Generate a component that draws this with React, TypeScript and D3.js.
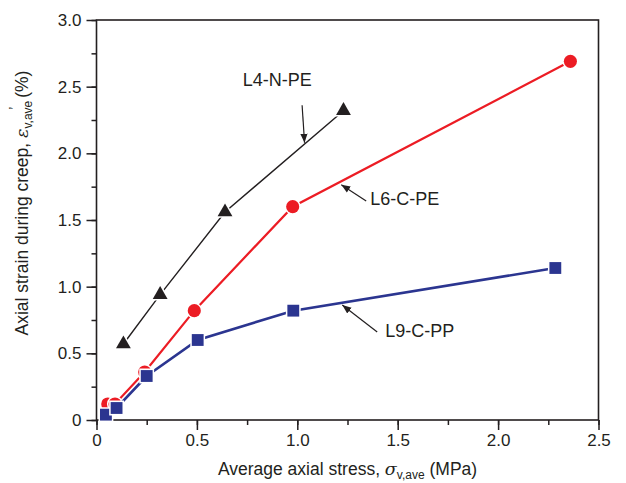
import React, { useRef, useEffect } from 'react';
import * as d3 from 'd3';

// L4-N-PE (black triangles)
const l4Stress = [0.134, 0.317, 0.64, 1.23];
const l4Strain = [0.57, 0.94, 1.56, 2.32];
// L6-C-PE (red circles)
const l6Stress = [0.056, 0.092, 0.24, 0.487, 0.977, 2.36];
const l6Strain = [0.12, 0.12, 0.36, 0.82, 1.6, 2.69];
// L9-C-PP (blue squares)
const l9Stress = [0.047, 0.1, 0.25, 0.504, 0.98, 2.285];
const l9Strain = [0.04, 0.09, 0.33, 0.6, 0.82, 1.14];

const xTicks = [0, 0.5, 1.0, 1.5, 2.0, 2.5];
const yTicks = [0, 0.5, 1.0, 1.5, 2.0, 2.5, 3.0];

// labels with arrows, in data units: text anchor, arrow tail, arrow head
const notes = [
  { label: 'L4-N-PE', tx: 0.9, ty: 2.505, anchor: 'middle', x1: 1.024, y1: 2.36, x2: 1.036, y2: 2.08 },
  { label: 'L6-C-PE', tx: 1.363, ty: 1.61, anchor: 'start', x1: 1.343, y1: 1.643, x2: 1.219, y2: 1.765 },
  { label: 'L9-C-PP', tx: 1.438, ty: 0.6225, anchor: 'start', x1: 1.398, y1: 0.66, x2: 1.224, y2: 0.862 },
];

const INK = '#231f20';

const CreepChart = () => {
  const svgRef = useRef<SVGSVGElement>(null);

  useEffect(() => {
    const width = 626;
    const height = 483;
    const left = 96.5, right = 598.5, top = 20, bottom = 420;

    const x = d3.scaleLinear().domain([0, 2.5]).range([left, right]);
    const y = d3.scaleLinear().domain([0, 3]).range([bottom, top]);

    const svg = d3.select(svgRef.current)
      .attr('width', width)
      .attr('height', height)
      .attr('font-family', '"Liberation Sans", Arial, sans-serif');
    svg.selectAll('*').remove();

    const defs = svg.append('defs');
    defs.append('marker')
      .attr('id', 'arrowhead')
      .attr('viewBox', '0 0 10 10')
      .attr('refX', 10)
      .attr('refY', 5)
      .attr('markerWidth', 9)
      .attr('markerHeight', 9)
      .attr('markerUnits', 'userSpaceOnUse')
      .attr('orient', 'auto')
      .append('path')
      .attr('d', 'M0,1 L10,5 L0,9 Z')
      .attr('fill', INK);

    const fmt = (d: number) => (d === 0 ? '0' : d3.format('.1f')(d));
    const minor = d3.range(0, 3.001, 0.25);

    // minor ticks
    svg.append('g')
      .attr('transform', `translate(0,${bottom})`)
      .call(d3.axisBottom(x).tickValues(d3.range(0, 2.501, 0.25)).tickSize(5).tickFormat(() => ''))
      .call(g => g.select('.domain').remove())
      .call(g => g.selectAll('line').attr('stroke', INK).attr('stroke-width', 1.5));
    svg.append('g')
      .attr('transform', `translate(${left},0)`)
      .call(d3.axisLeft(y).tickValues(minor).tickSize(5).tickFormat(() => ''))
      .call(g => g.select('.domain').remove())
      .call(g => g.selectAll('line').attr('stroke', INK).attr('stroke-width', 1.5));

    // major ticks
    svg.append('g')
      .attr('transform', `translate(0,${bottom})`)
      .call(d3.axisBottom(x).tickValues(xTicks).tickSize(10).tickPadding(4).tickFormat(fmt as any))
      .call(g => g.select('.domain').remove())
      .call(g => g.selectAll('line').attr('stroke', INK).attr('stroke-width', 1.5))
      .call(g => g.selectAll('text').attr('font-size', 17).attr('fill', INK).attr('font-family', null));
    svg.append('g')
      .attr('transform', `translate(${left},0)`)
      .call(d3.axisLeft(y).tickValues(yTicks).tickSize(10).tickPadding(5).tickFormat(fmt as any))
      .call(g => g.select('.domain').remove())
      .call(g => g.selectAll('line').attr('stroke', INK).attr('stroke-width', 1.5))
      .call(g => g.selectAll('text').attr('font-size', 17).attr('fill', INK).attr('font-family', null));

    // frame
    svg.append('rect')
      .attr('x', left)
      .attr('y', top)
      .attr('width', right - left)
      .attr('height', bottom - top)
      .attr('fill', 'none')
      .attr('stroke', INK)
      .attr('stroke-width', 1.6);

    const series = [
      { xs: l4Stress, ys: l4Strain, color: INK, width: 1.4, symbol: d3.symbolTriangle, size: 95 },
      { xs: l6Stress, ys: l6Strain, color: '#ec1c24', width: 2.2, symbol: d3.symbolCircle, size: 135 },
      { xs: l9Stress, ys: l9Strain, color: '#2b3590', width: 2.6, symbol: d3.symbolSquare, size: 140 },
    ];

    const line = d3.line<[number, number]>()
      .x(d => x(d[0]))
      .y(d => y(d[1]));

    series.forEach(s => {
      const pts = s.xs.map((v, i) => [v, s.ys[i]] as [number, number]);
      svg.append('path')
        .datum(pts)
        .attr('fill', 'none')
        .attr('stroke', s.color)
        .attr('stroke-width', s.width)
        .attr('d', line);
      svg.append('g')
        .selectAll('path')
        .data(pts)
        .join('path')
        .attr('transform', d => `translate(${x(d[0])},${y(d[1])})`)
        .attr('d', d3.symbol().type(s.symbol).size(s.size)())
        .attr('fill', s.color)
        .attr('stroke', 'white')
        .attr('stroke-width', 3)
        .attr('paint-order', 'stroke');
    });

    // annotations
    const ann = svg.append('g');
    notes.forEach(n => {
      ann.append('line')
        .attr('x1', x(n.x1)).attr('y1', y(n.y1))
        .attr('x2', x(n.x2)).attr('y2', y(n.y2))
        .attr('stroke', INK)
        .attr('stroke-width', 1.2)
        .attr('marker-end', 'url(#arrowhead)');
      ann.append('text')
        .attr('x', x(n.tx))
        .attr('y', y(n.ty))
        .attr('text-anchor', n.anchor)
        .attr('font-size', 18)
        .attr('fill', INK)
        .text(n.label);
    });

    // x axis title
    const xt = svg.append('text')
      .attr('x', (left + right) / 2)
      .attr('y', 475)
      .attr('text-anchor', 'middle')
      .attr('font-size', 17.5)
      .attr('fill', INK);
    xt.append('tspan').text('Average axial stress, ');
    xt.append('tspan').attr('font-family', '"DejaVu Serif", serif').attr('font-style', 'italic').text('σ');
    xt.append('tspan').attr('font-size', 12).attr('dy', 4).text('v,ave');
    xt.append('tspan').attr('dy', -4).text(' (MPa)');

    // y axis title
    const yt = svg.append('text')
      .attr('transform', `translate(28,203) rotate(-90)`)
      .attr('text-anchor', 'middle')
      .attr('font-size', 17.5)
      .attr('fill', INK);
    yt.append('tspan').text('Axial strain during creep, ');
    yt.append('tspan').attr('font-family', '"DejaVu Serif", serif').attr('font-style', 'italic').text('ε');
    yt.append('tspan').attr('font-size', 12).attr('dy', 4).text('v,ave');
    yt.append('tspan').attr('font-size', 14).attr('dx', -9).attr('dy', -13).text('\u2019');
    yt.append('tspan').attr('dy', 9).attr('dx', 4).text(' (%)');
  }, []);

  return (
    <div style={{ position: 'absolute', left: 0, top: 0, width: 626, height: 483, background: 'white' }}>
      <svg ref={svgRef} style={{ display: 'block' }}></svg>
    </div>
  );
};

export default function App() {
  return <CreepChart />;
}
